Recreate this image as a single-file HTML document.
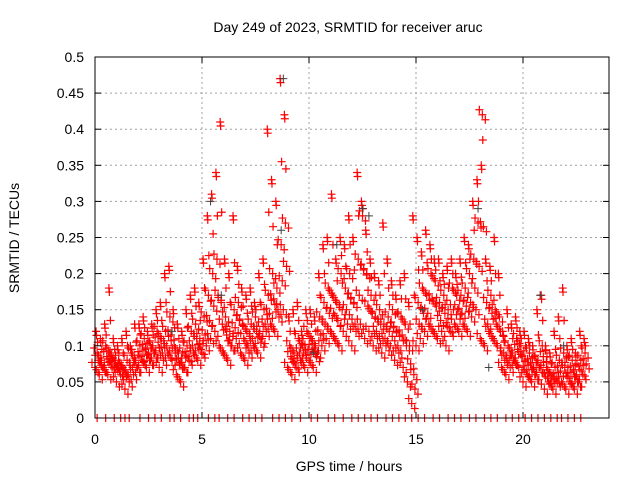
<!DOCTYPE html>
<html><head><meta charset="utf-8"><style>
body{margin:0;background:#fff;width:640px;height:480px;overflow:hidden}
svg{font-family:"Liberation Sans",sans-serif;font-size:14px}
</style></head><body>
<svg id="chart" width="640" height="480">
<rect width="640" height="480" fill="#fff"/>
<text x="348" y="32" text-anchor="middle">Day 249 of 2023, SRMTID for receiver aruc</text>
<g id="grid"></g>
<g id="marks"></g>
<rect x="95" y="57" width="514" height="361" fill="none" stroke="#000" stroke-width="1"/>
<g id="ticks"></g>
<text x="349" y="471" text-anchor="middle">GPS time / hours</text>
<text transform="translate(19,238) rotate(-90)" text-anchor="middle">SRMTID / TECUs</text>
</svg>
<script>
const xTicks=[0,5,10,15,20];
const yTicks=[0,0.05,0.1,0.15,0.2,0.25,0.3,0.35,0.4,0.45,0.5];
const slotStart=0, slotStep=0.2;
const lo=[.07,.06,.07,.06,.07,.05,.06,.04,.05,.06,.07,.08,.07,.08,.09,.07,.08,.09,.08,.06,.05,.07,.08,.09,.08,.09,.1,.11,.12,.1,.09,.08,.1,.11,.09,.08,.09,.1,.09,.11,.12,.13,.12,.14,.15,.07,.06,.07,.08,.07,.08,.07,.09,.1,.11,.12,.11,.1,.12,.13,.1,.12,.13,.11,.12,.1,.11,.09,.1,.1,.08,.09,.07,.05,.02,.1,.11,.12,.13,.12,.11,.12,.1,.12,.13,.12,.13,.12,.14,.15,.11,.1,.12,.11,.1,.07,.06,.07,.08,.07,.05,.06,.05,.06,.07,.04,.05,.04,.05,.05,.04,.05,.04,.05,.06];
const mid=[.09,.08,.1,.09,.08,.08,.07,.08,.09,.08,.1,.11,.09,.1,.12,.11,.12,.14,.1,.09,.09,.1,.12,.13,.11,.14,.17,.2,.22,.16,.14,.12,.15,.16,.13,.12,.13,.14,.12,.15,.17,.2,.18,.24,.27,.1,.09,.11,.1,.12,.11,.1,.14,.16,.18,.17,.16,.2,.18,.2,.16,.22,.28,.2,.17,.14,.15,.13,.14,.15,.12,.14,.13,.1,.06,.16,.18,.17,.2,.19,.16,.17,.15,.18,.17,.17,.18,.2,.22,.27,.42,.16,.17,.15,.14,.09,.1,.09,.11,.1,.08,.09,.07,.08,.1,.07,.06,.07,.08,.09,.07,.08,.06,.08,.09];
const hi=[.12,.11,.13,.18,.11,.1,.11,.12,.1,.13,.13,.14,.12,.13,.15,.16,.2,.21,.15,.13,.12,.15,.17,.18,.16,.22,.28,.31,.34,.41,.22,.2,.28,.21,.18,.17,.18,.16,.2,.22,.4,.33,.3,.47,.42,.14,.15,.16,.12,.15,.15,.14,.2,.24,.25,.31,.22,.25,.24,.28,.25,.34,.3,.26,.22,.2,.19,.27,.22,.19,.17,.19,.2,.16,.28,.25,.23,.26,.24,.22,.22,.2,.21,.22,.2,.22,.25,.24,.3,.33,.35,.22,.21,.25,.2,.12,.15,.13,.14,.12,.12,.11,.1,.15,.17,.1,.09,.12,.14,.18,.1,.11,.09,.12,.11];
const grayX=[5.4,5.9,8.7,8.8,11.3,12.5,12.8,15.3,17.9,18.4,20.8,21.9,3.6,10.2];
const grayY=[.3,.17,.26,.47,.24,.29,.28,.15,.29,.07,.17,.1,.12,.09];
const zeroX=[.1,.5,.9,1.2,1.4,1.6,2.1,2.5,2.8,3.1,3.5,3.7,4.0,4.4,4.6,4.8,5.3,5.6,5.8,6.2,6.5,6.9,7.2,7.5,7.8,8.3,8.6,8.9,9.2,9.6,10.1,10.4,10.9,11.2,11.6,12.0,12.3,12.6,12.9,13.2,13.6,13.9,14.2,14.5,14.8,15.1,15.4,15.8,16.1,16.5,16.8,17.1,17.5,17.8,18.2,18.5,18.8,19.2,19.5,19.8,20.1,20.4,20.7,21.0,21.3,21.6,21.8,22.1,22.4,22.7];
const X=h=>95+h*21.4, Y=v=>418-v*722;
const ns="http://www.w3.org/2000/svg";
const grid=document.getElementById('grid'),ticks=document.getElementById('ticks'),marks=document.getElementById('marks');
function mk(tag,attrs,parent){const e=document.createElementNS(ns,tag);for(const k in attrs)e.setAttribute(k,attrs[k]);parent.appendChild(e);return e;}
xTicks.forEach(t=>{const x=X(t);
 if(t>0){const g=mk('line',{x1:x,x2:x,y1:57,y2:418,stroke:'#a0a0a0','stroke-dasharray':'2,3'},grid);
 
 }
 mk('line',{x1:x,x2:x,y1:418,y2:412,stroke:'#000'},ticks);mk('line',{x1:x,x2:x,y1:57,y2:63,stroke:'#000'},ticks);
 const l=mk('text',{x:x,y:444,'text-anchor':'middle'},ticks);l.textContent=t;
 
 });
yTicks.forEach(t=>{const y=Y(t);
 if(t>0&&t<0.5){const g=mk('line',{x1:95,x2:609,y1:y,y2:y,stroke:'#a0a0a0','stroke-dasharray':'2,3'},grid);
 
 }
 mk('line',{x1:95,x2:101,y1:y,y2:y,stroke:'#000'},ticks);mk('line',{x1:603,x2:609,y1:y,y2:y,stroke:'#000'},ticks);
 const l=mk('text',{x:84,y:y+5,'text-anchor':'end'},ticks);l.textContent=String(t);
 
 });
const cl=[[0,0],[3,5],[-3,-5]];
function plus(x,y){return `M${x-4},${y}h8M${x},${y-4}v8`;}
function cluster(x,y){return cl.map(o=>plus(x+o[0],Math.min(y+o[1],418))).join('');}
let red='',gray='';
lo.forEach((v,i)=>{const t=slotStart+i*slotStep;
 red+=cluster(X(t),Y(v))+cluster(X(t+0.1),Y(mid[i]))+plus(X(t+0.05),Y(hi[i]))+plus(X(t+0.07),Y(hi[i])+4);
 red+=cluster(X(t+0.15),Y((v+mid[i])/2))+plus(X(t+0.12),Y((mid[i]+hi[i])/2));});
zeroX.forEach(t=>{red+=`M${X(t)},${414}v8`;});
grayX.forEach((t,i)=>{gray+=plus(X(t),Y(grayY[i]));});
const pr=mk('path',{d:red,stroke:'#ff0000','stroke-width':1.2,fill:'none'},marks);


const pg=mk('path',{d:gray,stroke:'#404040','stroke-width':1,fill:'none'},marks);


</script>
</body></html>
